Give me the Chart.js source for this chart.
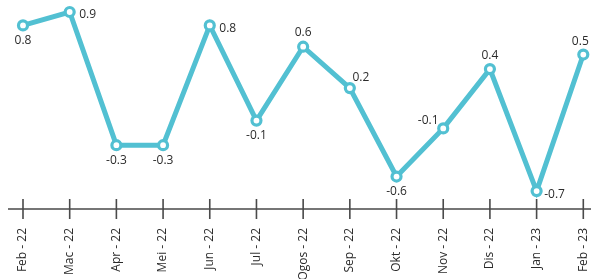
<!DOCTYPE html>
<html>
<head>
<meta charset="utf-8">
<script src="https://cdn.jsdelivr.net/npm/chart.js@4/dist/chart.umd.min.js"></script>
<style>
  html, body { margin: 0; padding: 0; background: #ffffff; }
  #wrap { width: 591px; height: 279px; position: relative; }
</style>
</head>
<body>
<div id="wrap"><canvas id="c" width="591" height="279"></canvas></div>
<script>
// ---- data ----
const categories = ["Feb - 22", "Mac - 22", "Apr - 22", "Mei - 22", "Jun - 22", "Jul - 22", "Ogos - 22", "Sep - 22", "Okt - 22", "Nov - 22", "Dis - 22", "Jan - 23", "Feb - 23"];
const values = [0.78, 0.9, -0.29, -0.29, 0.78, -0.07, 0.59, 0.22, -0.57, -0.14, 0.39, -0.7, 0.52];
const valueLabels = ["0.8", "0.9", "-0.3", "-0.3", "0.8", "-0.1", "0.6", "0.2", "-0.6", "-0.1", "0.4", "-0.7", "0.5"];

// ---- style ----
const LINE = '#52c0d2';
const TEXT = '#2b2b2b';
const AXIS = '#4a4a4a';
const labelAnchors = ["below", "right", "below", "below", "right", "below", "above", "aboveRight", "below", "aboveLeft", "above", "right", "aboveEdge"];
const anchorOffsets = {
  below: [0, 15], above: [0, -14], right: [18, 3],
  aboveRight: [11, -11], aboveLeft: [-15, -8], aboveEdge: [-3, -13]
};

const valueLabelPlugin = {
  id: 'valueLabels',
  afterDatasetsDraw(chart) {
    const ctx = chart.ctx;
    const meta = chart.getDatasetMeta(0);
    ctx.save();
    ctx.font = '12px "Open Sans", sans-serif';
    ctx.fillStyle = TEXT;
    ctx.textAlign = 'center';
    ctx.textBaseline = 'middle';
    meta.data.forEach((pt, i) => {
      const off = anchorOffsets[labelAnchors[i]];
      ctx.fillText(valueLabels[i], pt.x + off[0], pt.y + off[1]);
    });
    ctx.restore();
  }
};

const axisPlugin = {
  id: 'axisLine',
  beforeDatasetsDraw(chart) {
    const ctx = chart.ctx;
    const xs = chart.scales.x;
    const y = chart.chartArea.bottom;
    ctx.save();
    ctx.strokeStyle = AXIS;
    ctx.lineWidth = 1.6;
    ctx.beginPath();
    ctx.moveTo(8, y);
    ctx.lineTo(chart.width, y);
    categories.forEach((c, i) => {
      const x = xs.getPixelForValue(i);
      ctx.moveTo(x, y - 10);
      ctx.lineTo(x, y + 10);
    });
    ctx.stroke();
    ctx.restore();
  }
};

new Chart(document.getElementById('c'), {
  type: 'line',
  data: {
    labels: categories,
    datasets: [{
      data: values,
      borderColor: LINE,
      borderWidth: 5,
      pointRadius: 4.5,
      pointBorderWidth: 3.2,
      pointBackgroundColor: '#ffffff',
      pointBorderColor: LINE,
      tension: 0,
      clip: false
    }]
  },
  options: {
    responsive: false,
    animation: false,
    events: [],
    layout: { padding: { top: 12, left: 23, right: 7, bottom: 0 } },
    plugins: { legend: { display: false }, tooltip: { enabled: false } },
    scales: {
      y: { display: false, min: -0.86, max: 0.9 },
      x: {
        offset: false,
        grid: { display: false, drawTicks: false },
        border: { display: false },
        ticks: {
          autoSkip: false,
          minRotation: 90,
          maxRotation: 90,
          padding: 19,
          color: TEXT,
          font: { family: '"Open Sans", sans-serif', size: 12 }
        },
        afterFit(scale) {
          scale.height = 70;
          scale.paddingLeft = 0;
          scale.paddingRight = 0;
        }
      }
    }
  },
  plugins: [axisPlugin, valueLabelPlugin]
});
</script>
</body>
</html>
